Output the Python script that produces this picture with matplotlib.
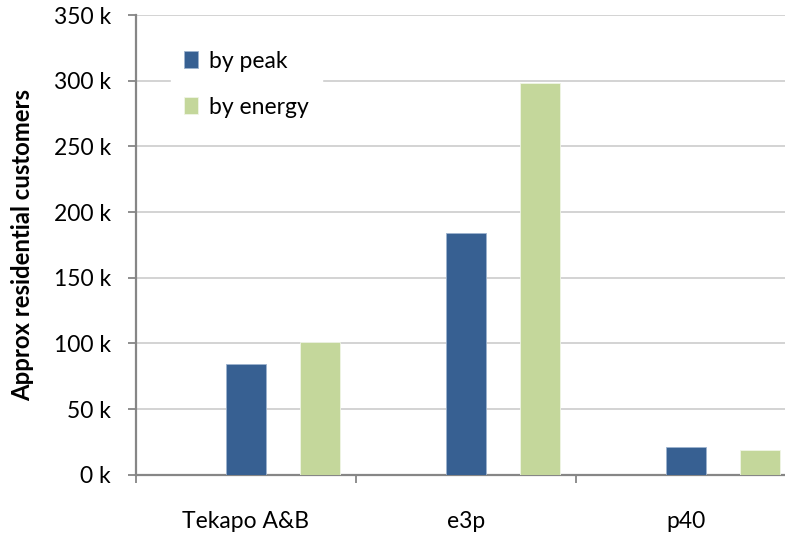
import numpy as np
import matplotlib
matplotlib.use("Agg")
from matplotlib import pyplot as plt
from matplotlib.ticker import FuncFormatter

plt.rcParams['font.family'] = ['Lato', 'DejaVu Sans']

categories = ["Tekapo A&B", "e3p", "p40"]
by_peak = [84, 184, 21]        # thousands of customers
by_energy = [101, 298, 18.5]   # thousands of customers
y_ticks = [0, 50, 100, 150, 200, 250, 300, 350]

blue = "#376092"
green = "#C4D79B"
axis_grey = "#868686"
grid_grey = "#D0D0D0"

fig = plt.figure(figsize=(7.85, 5.35), dpi=100)
# axes run a little past the right edge of the figure
ax = fig.add_axes([136 / 785, 60.3 / 535, 660 / 785, 459.7 / 535])

x = np.arange(len(categories))
width = 0.182
step = 0.336
ax.bar(x, by_peak, width, color=blue, edgecolor="#9DB3CF", linewidth=0.6, label="by peak", zorder=3)
ax.bar(x + step, by_energy, width, color=green, edgecolor="#F0F5E6", linewidth=0.6, label="by energy", zorder=3)

ax.set_xlim(-0.5, len(categories) - 0.5)
ax.set_ylim(0, 350)
ax.set_yticks(y_ticks)
ax.yaxis.set_major_formatter(FuncFormatter(lambda v, p: "%d k" % v))
ax.grid(axis="y", color=grid_grey, linewidth=1.3, zorder=0)

# category labels sit at the centres, tick marks at the boundaries
ax.set_xticks(x)
ax.set_xticklabels(categories)
ax.set_xticks(np.arange(len(categories) + 1) - 0.5, minor=True)
ax.tick_params(axis="x", which="major", length=0, pad=26, labelsize=16.5)
ax.tick_params(axis="x", which="minor", length=6, width=1.3, color=axis_grey, direction="out")
ax.tick_params(axis="y", length=6, width=1.3, color=axis_grey, pad=12, labelsize=16.5)

for side in ["top", "right"]:
    ax.spines[side].set_visible(False)
for side in ["left", "bottom"]:
    ax.spines[side].set_color(axis_grey)
    ax.spines[side].set_linewidth(1.6)

ax.set_ylabel("Approx residential customers", fontsize=17.2, fontweight="bold", labelpad=14)

leg = ax.legend(loc="upper left", bbox_to_anchor=(0.053, 0.950), borderaxespad=0,
                frameon=True, fancybox=False, fontsize=16.5, handlelength=0.62,
                handleheight=0.78, handletextpad=0.5, labelspacing=1.1, borderpad=0.55)
leg.get_frame().set_facecolor("white")
leg.get_frame().set_edgecolor("white")
leg.get_frame().set_alpha(1)

fig.savefig("out.png", dpi=100)
